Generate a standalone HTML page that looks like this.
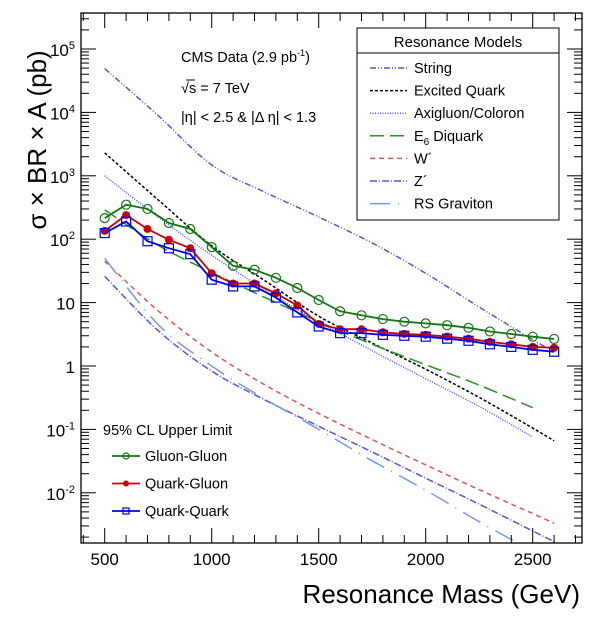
<!DOCTYPE html>
<html><head><meta charset="utf-8"><style>
html,body{margin:0;padding:0;background:#fff;}
svg{display:block;font-family:"Liberation Sans",sans-serif;}
</style></head><body>
<svg id="c" width="595" height="618" viewBox="0 0 595 618" xmlns="http://www.w3.org/2000/svg">
<g id="grid"></g><g id="curves"></g><g id="data"></g>
<rect x="81" y="13" width="501" height="530" fill="none" stroke="#000" stroke-width="1.3"/>
<g id="ticks"></g>
<text x="181" y="62" font-size="14.5">CMS Data (2.9 pb<tspan font-size="9" dy="-6">-1</tspan><tspan dy="6">)</tspan></text>
<text x="181" y="93" font-size="14.5">√s = 7 TeV</text>
<line x1="186" y1="80" x2="195" y2="80" stroke="#000" stroke-width="1"/>
<text x="181" y="122" font-size="14.5">|η| &lt; 2.5 &amp; |Δ η| &lt; 1.3</text>
<text transform="translate(46,140) rotate(-90)" text-anchor="middle" font-size="26">σ × BR × A (pb)</text>
<text x="580" y="603" text-anchor="end" font-size="26">Resonance Mass (GeV)</text>
<g>
<rect x="357" y="28" width="202" height="192" fill="#fff" stroke="#000" stroke-width="1"/>
<line x1="357" y1="53" x2="559" y2="53" stroke="#000" stroke-width="1"/>
<text x="458" y="47" text-anchor="middle" font-size="15">Resonance Models</text>
<g id="mleg"></g>
</g>
<g>
<text x="103" y="435" font-size="14.5">95% CL Upper Limit</text>
<g id="lleg"></g>
</g>
</svg>
<script>
const masses=[500,600,700,800,900,1000,1100,1200,1300,1400,1500,1600,1700,1800,1900,2000,2100,2200,2300,2400,2500,2600];
const gluonGluon=[215,350,300,180,145,75,38,33,24.6,17,11,7.3,6.3,5.5,5,4.7,4.4,4.0,3.5,3.2,2.9,2.67];
const quarkGluon=[135,240,145,98,72,29,20,20,14,9,4.6,3.8,3.8,3.4,3.2,3.1,2.9,2.7,2.4,2.2,2.0,1.94];
const quarkQuark=[125,190,93,72,58,23,18,18,12,7,4.2,3.3,3.3,3.1,3.0,2.9,2.7,2.5,2.2,2.0,1.8,1.68];
const theoryMass=[500,750,1000,1250,1500,1750,2000,2250,2500,2600];
const stringXS=[49000,8900,1480,550,224,87,29,8.5,2.6,1.66];
const excitedQuarkXS=[2300,417,79,22,6.1,2.3,0.89,0.32,0.105,0.066];
const axigluonXS=[1000,224,56,15.8,5,1.74,0.63,0.23,0.076,null];
const diquarkXS=[290,80,30,12,5,2.2,1.05,0.5,0.22,null];
const wprimeXS=[45,7.4,1.66,0.5,0.178,0.069,0.0275,0.0112,0.0047,0.0033];
const zprimeXS=[26,3.6,0.83,0.29,0.112,0.044,0.017,0.0066,0.0025,0.0017];
const gravitonXS=[50,4.5,1.0,0.3,0.1,0.032,0.011,0.0035,0.0012,null];
const yDecades=[-2,-1,0,1,2,3,4,5];
const yTickLabels=["10^-2","10^-1","1","10","10^2","10^3","10^4","10^5"];
const xTickLabels=[500,1000,1500,2000,2500];

const NS="http://www.w3.org/2000/svg";
const X=m=>104.7+(m-500)*0.214;
const Y=v=>366-63.4*Math.log10(v);
function el(t,a,p){const e=document.createElementNS(NS,t);for(const k in a)e.setAttribute(k,a[k]);p.appendChild(e);return e;}
const clipDef=el('defs',{},document.getElementById('c'));
const cp=el('clipPath',{id:'pc'},clipDef);el('rect',{x:81,y:13,width:501,height:530},cp);

const ticks=document.getElementById('ticks');
for(let m=400;m<=2700;m+=100){const x=X(m);if(x<81||x>582)continue;const L=m%500===0?15:8;
 el('line',{x1:x,y1:543,x2:x,y2:543-L,stroke:'#000','stroke-width':1},ticks);
 el('line',{x1:x,y1:13,x2:x,y2:13+L,stroke:'#000','stroke-width':1},ticks);}
xTickLabels.forEach(m=>{const t=el('text',{x:X(m),y:565,'text-anchor':'middle','font-size':17},ticks);t.textContent=m;
 
 });
for(let d=-3;d<=5;d++)for(let k=1;k<=9;k++){const y=Y(k*Math.pow(10,d));if(y<13||y>543)continue;const L=k===1?15:8;
 el('line',{x1:81,y1:y,x2:81+L,y2:y,stroke:'#000','stroke-width':1},ticks);
 el('line',{x1:582,y1:y,x2:582-L,y2:y,stroke:'#000','stroke-width':1},ticks);}
yDecades.forEach((d,i)=>{const y=Y(Math.pow(10,d))+7;const s=yTickLabels[i];
 const t=el('text',{x:75,y:y,'text-anchor':'end','font-size':17},ticks);
 
 
 if(s.includes('^')){const [b,e]=s.split('^');t.appendChild(document.createTextNode(b));const sp=el('tspan',{'font-size':11,dy:-7},t);sp.textContent=e;}
 else t.textContent=s;});

function smoothPath(pts){
 let d='M'+pts[0][0].toFixed(1)+','+pts[0][1].toFixed(1);
 for(let i=0;i<pts.length-1;i++){
  const p0=pts[Math.max(0,i-1)],p1=pts[i],p2=pts[i+1],p3=pts[Math.min(pts.length-1,i+2)];
  const c1=[p1[0]+(p2[0]-p0[0])/6,p1[1]+(p2[1]-p0[1])/6];
  const c2=[p2[0]-(p3[0]-p1[0])/6,p2[1]-(p3[1]-p1[1])/6];
  d+='C'+c1.map(v=>v.toFixed(1)).join(',')+' '+c2.map(v=>v.toFixed(1)).join(',')+' '+p2[0].toFixed(1)+','+p2[1].toFixed(1);}
 return d;}

const models=[
 ['string',stringXS,'#5555dd','6,2,1,2,1,2','String'],
 ['excited-quark',excitedQuarkXS,'#000','3,2','Excited Quark'],
 ['axigluon',axigluonXS,'#5555ee','1,1.5','Axigluon/Coloron'],
 ['e6-diquark',diquarkXS,'#229922','14,6','E6 Diquark'],
 ['w-prime',wprimeXS,'#dd5555','5,4','W\u00b4'],
 ['z-prime',zprimeXS,'#5555dd','7,2,1,2','Z\u00b4'],
 ['rs-graviton',gravitonXS,'#7799dd','20,8,1,8','RS Graviton']];
const cg=document.getElementById('curves');
const mleg=document.getElementById('mleg');
models.forEach((md,i)=>{const [n,vals,col,dash,lab]=md;const pts=[];
 theoryMass.forEach((m,j)=>{if(vals[j]==null)return;pts.push([X(m),Y(vals[j])]);});
 const p=el('path',{d:smoothPath(pts),fill:'none',stroke:col,'stroke-width':1.5,'stroke-dasharray':dash,'clip-path':'url(#pc)'},cg);
 
 
 const y=68+i*22.6;
 el('line',{x1:370,y1:y,x2:407,y2:y,stroke:col,'stroke-width':1.5,'stroke-dasharray':dash},mleg);
 const t=el('text',{x:414,y:y+5,'font-size':14.5},mleg);
 
 
 if(n==='e6-diquark'){t.appendChild(document.createTextNode('E'));const s=el('tspan',{'font-size':10,dy:4},t);s.textContent='6';const r=el('tspan',{dy:-4},t);r.textContent=' Diquark';}
 else t.textContent=lab;});

const series=[['gluon-gluon',gluonGluon,'#117711','circle','Gluon-Gluon'],
 ['quark-gluon',quarkGluon,'#cc0000','dot','Quark-Gluon'],
 ['quark-quark',quarkQuark,'#0000ee','square','Quark-Quark']];
const dg=document.getElementById('data');const lleg=document.getElementById('lleg');
function marker(kind,x,y,col,g,s){
 if(kind==='circle')return el('circle',{cx:x,cy:y,r:s,fill:'none',stroke:col,'stroke-width':1.2},g);
 if(kind==='dot')return el('circle',{cx:x,cy:y,r:s,fill:col},g);
 return el('rect',{x:x-s,y:y-s,width:2*s,height:2*s,fill:'none',stroke:col,'stroke-width':1.2},g);}
series.forEach((s,i)=>{const [n,vals,col,kind,lab]=s;
 const pts=masses.map((m,j)=>X(m).toFixed(1)+','+Y(vals[j]).toFixed(1)).join(' ');
 const pl=el('polyline',{points:pts,fill:'none',stroke:col,'stroke-width':1.8},dg);
 
 
 masses.forEach((m,j)=>{const mk=marker(kind,X(m),Y(vals[j]),col,dg,kind==='dot'?4:4.5);
  
  });
 const y=456+i*27.5;
 el('line',{x1:112,y1:y,x2:140,y2:y,stroke:col,'stroke-width':1.8},lleg);
 marker(kind,126,y,col,lleg,3);
 const t=el('text',{x:145,y:y+5,'font-size':14.5},lleg);t.textContent=lab;
 
 });
</script>
</body></html>
